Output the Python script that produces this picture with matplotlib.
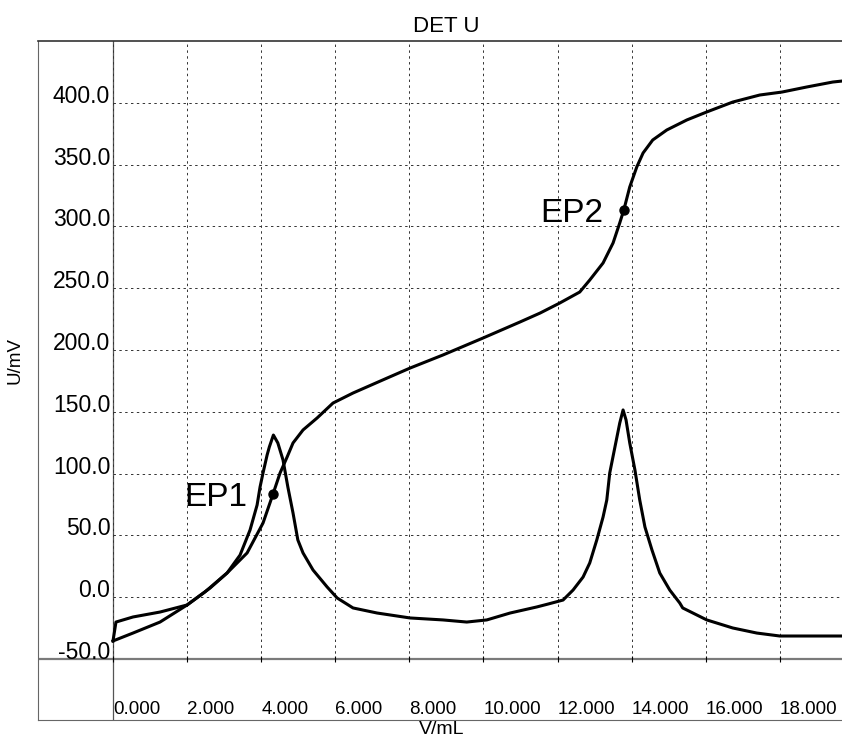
import matplotlib.pyplot as plt
import numpy as np

plt.rcParams['font.family'] = ['Liberation Sans', 'DejaVu Sans']

# titration curve U (mV) vs V (mL)
vol_u = [0.0, 0.54, 1.27, 2.0, 2.62, 3.08, 3.62, 4.05, 4.32, 4.51, 4.70, 4.86, 5.13,
         5.51, 5.94, 6.48, 7.40, 8.02, 8.91, 9.99, 10.99, 11.53, 12.06, 12.60, 12.87,
         13.23, 13.50, 13.68, 13.79, 13.95, 14.14, 14.31, 14.57, 14.95, 15.49, 16.03,
         16.73, 17.46, 18.06, 18.73, 19.43, 19.68]
u = [-35.4, -29.0, -20.1, -6.3, 7.4, 19.6, 35.8, 60.0, 83.5, 100.5, 113.4, 124.8, 135.3,
     145.0, 157.1, 165.2, 177.3, 185.4, 196.0, 209.7, 222.7, 229.9, 238.0, 246.9, 256.6,
     270.4, 286.6, 302.8, 313.3, 331.9, 348.1, 359.4, 369.9, 378.0, 386.1, 392.6,
     400.6, 406.3, 408.7, 412.8, 416.8, 417.6]

# first derivative trace (same scale)
vol_d = [0.0, 0.08, 0.54, 1.27, 2.0, 2.48, 3.08, 3.43, 3.70, 3.89, 3.97, 4.05, 4.16, 4.22,
         4.33, 4.45, 4.59, 4.72, 4.86, 4.99, 5.13, 5.40, 5.78, 6.05, 6.48, 7.13, 8.02,
         8.91, 9.55, 10.09, 10.72, 11.44, 11.75, 12.15, 12.42, 12.69, 12.87, 13.06,
         13.23, 13.33, 13.41, 13.55, 13.68, 13.77, 13.85, 13.95, 14.09, 14.22, 14.36,
         14.55, 14.76, 15.03, 15.30, 15.38, 16.03, 16.73, 17.38, 18.00, 18.73, 19.68]
du = [-35.4, -20.1, -16.0, -12.0, -6.3, 4.2, 19.6, 34.1, 54.4, 74.6, 89.2, 100.5, 115.0,
      121.5, 131.2, 124.8, 111.0, 89.2, 68.1, 46.3, 35.8, 22.0, 8.3, -0.6, -8.7, -12.8,
      -16.8, -18.4, -20.1, -18.4, -12.8, -7.9, -5.5, -2.3, 5.8, 16.3, 27.7, 46.3,
      64.9, 78.6, 100.5, 121.5, 140.9, 151.5, 143.4, 124.8, 102.9, 78.6, 56.8,
      38.2, 19.6, 5.8, -4.7, -8.7, -18.4, -24.9, -29.0, -31.4, -31.4, -31.4]

ep_names = ['EP1', 'EP2']
ep_vol = [4.32, 13.79]
ep_u = [83.5, 313.3]

W, H = 842, 740
fig = plt.figure(figsize=(W / 100, H / 100), dpi=100)

# outer frame
frame = fig.add_axes([38 / W, 20 / H, 803.5 / W, 679 / H])
frame.set_xticks([])
frame.set_yticks([])
for s in ['left', 'bottom']:
    frame.spines[s].set_color('#666666')
    frame.spines[s].set_linewidth(0.8)
frame.spines['top'].set_color('#333333')
frame.spines['top'].set_linewidth(1.2)
frame.spines['right'].set_visible(False)
frame.axhline((720 - 659) / 679, color='#7a7a7a', lw=1.6)
frame.axvline((113 - 38) / 803.5, color='#555555', lw=0.9)

# data area
ax = fig.add_axes([113 / W, 81 / H, 729 / W, 618 / H])
ax.patch.set_alpha(0)
for s in ax.spines.values():
    s.set_visible(False)
ax.set_xlim(0, 19.68)
ax.set_ylim(-50, 450)

yt = np.arange(-50, 401, 50)
ax.set_yticks(yt)
ax.set_yticklabels([f'{v:.1f}' for v in yt])
ax.tick_params(axis='y', length=0, pad=2, labelsize=16.5)
for lbl in ax.get_yticklabels():
    lbl.set_verticalalignment('baseline')

xt = np.arange(0, 19, 2)
ax.set_xticks(xt)
ax.set_xticklabels([f'{v:.3f}' for v in xt])
ax.tick_params(axis='x', length=4, direction='inout', width=0.8, pad=28, labelsize=13.5)
for lbl in ax.get_xticklabels():
    lbl.set_horizontalalignment('left')

ax.grid(True, ls=(0, (2.5, 3.5)), lw=0.7, color='#333333')
ax.set_axisbelow(True)

ax.plot(vol_u, u, color='black', lw=2.2, solid_joinstyle='round', clip_on=False)
ax.plot(vol_d, du, color='black', lw=2.2, solid_joinstyle='round', clip_on=False)

offsets = [(-18.5, -8.6), (-15, -8.6)]
for name, xv, yv, off in zip(ep_names, ep_vol, ep_u, offsets):
    ax.plot(xv, yv, 'o', color='black', ms=6.5)
    ax.annotate(name, (xv, yv), xytext=off, textcoords='offset points',
                ha='right', va='baseline', fontsize=24)

fig.text(446 / W, 1 - 26 / H, 'DET U', ha='center', va='center', fontsize=16)
fig.text(442 / W, 1 - 730 / H, 'V/mL', ha='center', va='center', fontsize=14)
fig.text(15 / W, 1 - 361 / H, 'U/mV', ha='center', va='center', rotation=90, fontsize=13.5)

fig.savefig('out.png', dpi=100)
